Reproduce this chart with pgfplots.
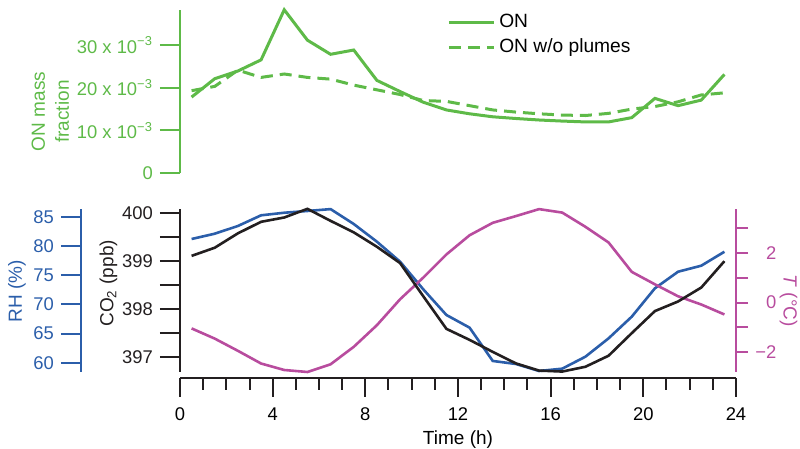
\documentclass[border=0pt]{standalone}
\usepackage{pgfplots}
\pgfplotsset{compat=1.18}
\usepackage{fontspec}
\setmainfont{Liberation Sans}
\definecolor{ongreen}{RGB}{94,186,72}
\definecolor{rhblue}{RGB}{43,94,170}
\definecolor{tpurple}{RGB}{184,76,158}
\definecolor{coblack}{RGB}{35,31,32}

\pgfplotstableread{
h ON ONnp CO RH T
0.5 17.8 19.3 399.10 81.18 -1.04
1.5 22.1 20.3 399.27 82.09 -1.45
2.5 23.9 24.1 399.57 83.41 -1.94
3.5 26.5 22.4 399.81 85.24 -2.45
4.5 38.2 23.2 399.90 85.68 -2.71
5.5 31.1 22.4 400.08 85.98 -2.79
6.5 27.8 22.0 399.83 86.30 -2.48
7.5 28.8 20.6 399.59 83.75 -1.78
8.5 21.7 19.5 399.29 80.72 -0.91
9.5 19.1 18.4 398.95 77.30 0.13
10.5 16.6 17.0 398.26 72.57 1.00
11.5 14.8 16.8 397.58 68.17 1.93
12.5 13.9 15.8 397.35 66.00 2.70
13.5 13.2 14.8 397.10 60.30 3.20
14.5 12.8 14.3 396.86 59.78 3.47
15.5 12.45 13.9 396.71 58.58 3.75
16.5 12.2 13.6 396.69 58.98 3.61
17.5 12.0 13.5 396.79 61.03 3.04
18.5 12.0 14.0 397.02 64.17 2.41
19.5 13.0 15.0 397.49 67.88 1.23
20.5 17.5 15.6 397.95 72.74 0.73
21.5 15.8 16.7 398.15 75.58 0.25
22.5 17.1 18.3 398.44 76.61 -0.08
23.5 23.1 18.8 398.99 79.00 -0.48
}\datatable

\pgfplotsset{
  base/.style={scale only axis, anchor=south west, width=278pt, xmin=0, xmax=24,
    clip=false,
    tick label style={font=\fontsize{9.2}{11}\selectfont},
    label style={font=\fontsize{9.5}{10.8}\selectfont},
    /pgf/number format/assume math mode=true,
    tick align=outside,
    axis line style={line width=1pt},
    tick style={line width=1pt},
    major tick length=10pt, minor tick length=10pt},
}

\begin{document}
\begin{tikzpicture}
\path[use as bounding box] (0,0) rectangle (400pt,224.5pt);

% ---------- top panel ----------
\begin{axis}[base, at={(90pt,137.85pt)}, height=81.65pt, ymin=0, ymax=38.15,
  axis x line=none, axis y line*=left,
  axis line style={ongreen}, tick style={ongreen},
  ytick={0,10,20,30},
  yticklabels={0, 10 x 10\textsuperscript{−3}, 20 x 10\textsuperscript{−3}, 30 x 10\textsuperscript{−3}},
  yticklabel style={ongreen},
  ylabel={ON mass\\[1.2pt]fraction},
  ylabel style={ongreen, align=center, at={(axis description cs:-0.233,0.378)}, anchor=center},
  legend style={draw=none, fill=none, at={(0.48,1.0)}, anchor=north west, inner sep=0pt,
    font=\fontsize{9.6}{11}\selectfont, cells={anchor=west}},
  legend cell align=left,
  legend image code/.code={\draw[#1] (0pt,0pt) -- (22.5pt,0pt);},
]
\addplot[ongreen, line width=1.5pt] table[x=h,y=ON]{\datatable};
\addlegendentry{ON}
\addplot[ongreen, line width=1.5pt, dash pattern=on 6pt off 3.5pt] table[x=h,y=ONnp]{\datatable};
\addlegendentry{ON w/o plumes}
\end{axis}

% ---------- RH axis (decoration) ----------
\begin{axis}[base, at={(40.5pt,38.5pt)}, width=20pt, height=81.5pt, xmin=0, xmax=1,
  ymin=58.41, ymax=86.32,
  axis x line=none, axis y line*=left,
  axis line style={rhblue}, tick style={rhblue},
  ytick={60,65,...,85}, yticklabel style={rhblue},
  ylabel={RH (\%)},
  ylabel style={rhblue, at={(axis description cs:-1.6,0.494)}, anchor=center},
]
\end{axis}

% ---------- RH data ----------
\begin{axis}[base, at={(90pt,38.5pt)}, height=81.5pt, ymin=58.41, ymax=86.32,
  axis lines=none]
\addplot[rhblue, line width=1.3pt] table[x=h,y=RH]{\datatable};
\end{axis}

% ---------- T data + right axis ----------
\begin{axis}[base, at={(90pt,38.5pt)}, height=81.5pt, ymin=-2.79, ymax=3.755,
  axis x line=none, axis y line*=right,
  axis line style={tpurple}, tick style={tpurple},
  major tick length=6pt,
  ytick={-2,-1,0,1,2,3}, yticklabels={−2,,0,,2,},
  yticklabel style={tpurple, anchor=west, text width=10.6pt, align=right},
  ylabel={\textit{T} (°C)},
  ylabel style={tpurple, at={(axis description cs:1.0944,0.437)}, anchor=center, rotate=180},
]
\addplot[tpurple, line width=1.3pt] table[x=h,y=T]{\datatable};
\end{axis}

% ---------- CO2 axis ----------
\begin{axis}[base, at={(90pt,38.5pt)}, height=81.5pt, ymin=396.681, ymax=400.077,
  axis x line=none, axis y line*=left,
  axis line style={coblack}, tick style={coblack},
  ytick={397,398,399,400}, minor ytick={397.5,398.5,399.5},
  yticklabel style={coblack},
  ylabel={CO\textsubscript{2} (ppb)},
  ylabel style={coblack, at={(axis description cs:-0.1286,0.544)}, anchor=center},
]
\addplot[coblack, line width=1.3pt] table[x=h,y=CO]{\datatable};
\end{axis}

% ---------- time axis ----------
\begin{axis}[base, at={(90pt,35.65pt)}, height=5pt, ymin=0, ymax=1,
  axis y line=none, axis x line*=bottom,
  axis line style={coblack}, tick style={coblack},
  xtick={0,4,...,24}, minor xtick={1,...,23},
  major tick length=9.5pt, minor tick length=6pt,
  xticklabel style={yshift=-2pt},
  xlabel={Time (h)},
  xlabel style={at={(axis description cs:0.5,-6.15)}, anchor=center},
]
\end{axis}
\end{tikzpicture}
\end{document}
